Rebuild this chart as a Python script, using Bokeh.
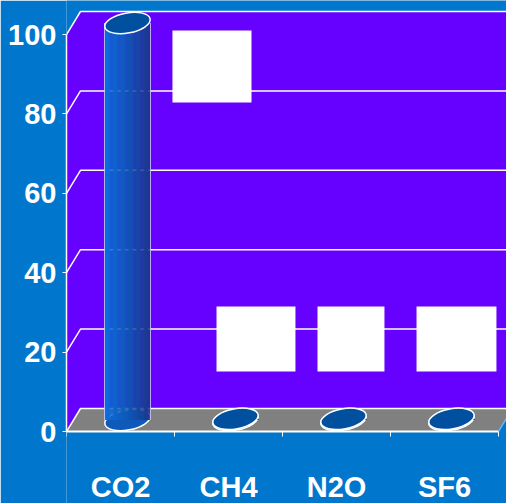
import numpy as np
from bokeh.plotting import figure
from bokeh.models import Range1d, FixedTicker
from bokeh.core.properties import value
from bokeh.embed import file_html
from bokeh.resources import INLINE

# ---- data ----
categories = ["CO2", "CH4", "N2O", "SF6"]
values = [100, 0.3, 0.3, 0.3]
y_ticks = [0, 20, 40, 60, 80, 100]

# ---- layout / style constants ----
W, H = 506, 503
LEFT_PX = 66            # front y-axis position
CAT_PX = 108            # pixels per category
Y0_PX = 431             # pixel row of value 0 (front)
UNIT_PX = 3.97          # pixels per value unit
DEPTH_X_PX, DEPTH_Y_PX = 14, 23
BAR_W_PX = 46
ELL_H_PX = 20
ELL_ANGLE = 0.18
FONT = "Liberation Sans"
FONT_SIZE = "29px"
LABEL_CENTER_PX = 486
BG = "#0077CC"
WALL = "#6600FF"
FLOOR = "#808080"
TOP_FILL = "#00509F"
GRAD = [(12, 112, 222), (14, 88, 182), (30, 52, 138)]
# white boxes covering labels (data units: left, right, bottom, top)
LABEL_BOXES = [(0.981, 1.713, 82.9, 101.0), (1.389, 2.120, 15.1, 31.5),
               (2.324, 2.944, 15.1, 31.5), (3.241, 3.981, 15.1, 31.5)]

x_end = (W - LEFT_PX) / CAT_PX
y_start = -(H - Y0_PX) / UNIT_PX
y_end = Y0_PX / UNIT_PX
dx = DEPTH_X_PX / CAT_PX
dy = DEPTH_Y_PX / UNIT_PX
n = len(categories)
XR = x_end + 1

p = figure(width=W, height=H, x_range=Range1d(0, x_end), y_range=Range1d(y_start, y_end),
           output_backend="svg", toolbar_location=None, x_axis_location=None,
           y_axis_location="left", min_border_left=LEFT_PX, min_border_right=0,
           min_border_top=0, min_border_bottom=0)
p.background_fill_color = BG
p.border_fill_color = BG
p.outline_line_color = None
p.grid.visible = False

ax = p.yaxis[0]
ax.ticker = FixedTicker(ticks=y_ticks)
ax.bounds = (min(y_ticks), max(y_ticks))
ax.axis_line_color = "white"
ax.axis_line_width = 1.5
ax.major_tick_line_color = "white"
ax.major_tick_out = 4
ax.major_tick_in = 0
ax.minor_tick_line_color = None
ax.major_label_text_color = "white"
ax.major_label_text_font = FONT
ax.major_label_text_font_style = "bold"
ax.major_label_text_font_size = FONT_SIZE
ax.major_label_standoff = 6

ymax = max(y_ticks)
# walls (side + back)
p.patch([0, 0, dx, XR, XR, dx], [0, ymax, ymax + dy, ymax + dy, dy, dy],
        fill_color=WALL, line_color=None)
# floor
p.patch([0, dx, n + dx, n], [0, dy, dy, 0], fill_color=FLOOR, line_color=None)
# gridlines
p.multi_line([[0, dx, XR] for v in y_ticks], [[v, v + dy, v + dy] for v in y_ticks],
             line_color="white", line_width=1.5)
# floor front edge and right edge
p.line([0, n], [0, 0], line_color="white", line_width=2)
p.line([n, n + dx], [0, dy], line_color="#6fb0f0", line_width=1.5)
# category boundary ticks
bx = list(range(n + 1))
p.segment(x0=bx, y0=[0] * (n + 1), x1=bx, y1=[-5 / UNIT_PX] * (n + 1),
          line_color="white", line_width=1)

# cylinders
w = BAR_W_PX / CAT_PX
eh = ELL_H_PX / UNIT_PX
NS = 40
def grad_color(t):
    if t < 0.5:
        a, b, u = GRAD[0], GRAD[1], t / 0.5
    else:
        a, b, u = GRAD[1], GRAD[2], (t - 0.5) / 0.5
    c = [int(round(a[k] + (b[k] - a[k]) * u)) for k in range(3)]
    return "#%02x%02x%02x" % tuple(c)

for i, v in enumerate(values):
    cx = i + 0.5 + dx / 2
    base = dy / 2
    top = v + dy / 2
    # bottom ellipse
    p.ellipse(x=[cx], y=[base], width=[w], height=[eh], angle=ELL_ANGLE,
              fill_color=grad_color(0.45), line_color="white", line_width=1.5)
    edges = np.linspace(cx - w / 2, cx + w / 2, NS + 1)
    cols = [grad_color((k + 0.5) / NS) for k in range(NS)]
    p.quad(left=edges[:-1], right=edges[1:] + 0.002, bottom=[base] * NS, top=[top] * NS,
           fill_color=cols, line_color=None)
    if top - base > eh:
        p.segment(x0=[cx - w / 2, cx + w / 2], y0=[base, base], x1=[cx - w / 2, cx + w / 2],
                  y1=[top, top], line_color="#d8d0ff", line_width=1, line_alpha=0.8)
    p.ellipse(x=[cx], y=[top], width=[w], height=[eh], angle=ELL_ANGLE,
              fill_color=TOP_FILL, line_color="white", line_width=1.5)

# white label boxes
p.quad(left=[b[0] for b in LABEL_BOXES], right=[b[1] for b in LABEL_BOXES],
       bottom=[b[2] for b in LABEL_BOXES], top=[b[3] for b in LABEL_BOXES],
       fill_color="white", line_color=None)

# category labels
label_y = -(LABEL_CENTER_PX - Y0_PX) / UNIT_PX
p.text(x=[i + 0.5 for i in range(n)], y=[label_y] * n, text=categories,
       text_font=value(FONT), text_font_style="bold", text_font_size=FONT_SIZE,
       text_color="white", text_align="center", text_baseline="middle")

open("out.html", "w").write(file_html(p, INLINE))
